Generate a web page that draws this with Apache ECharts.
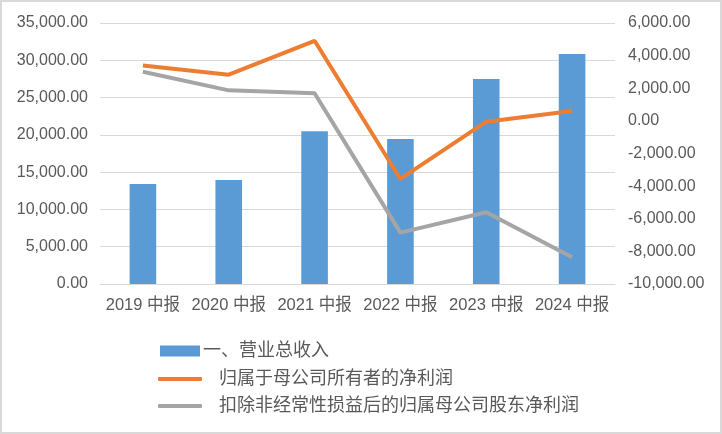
<!DOCTYPE html>
<html><head><meta charset="utf-8">
<script src="https://cdn.jsdelivr.net/npm/echarts@6/dist/echarts.min.js"></script>
<style>html,body{margin:0;padding:0;background:#fff}#c{width:722px;height:434px}</style>
</head><body><div id="c"></div>
<script>
const categories = ['2019 中报','2020 中报','2021 中报','2022 中报','2023 中报','2024 中报'];
const revenue = [13400, 13950, 20500, 19450, 27500, 30850];
const netProfit = [3400, 2830, 4910, -3560, -50, 600];
const netProfitDeducted = [3010, 1870, 1690, -6850, -5600, -8360];
const seriesNames = ['一、营业总收入','归属于母公司所有者的净利润','扣除非经常性损益后的归属母公司股东净利润'];

function fmt(v){
  const neg = v < 0; v = Math.abs(v);
  const s = v.toFixed(2).split('.');
  s[0] = s[0].replace(/\B(?=(\d{3})+(?!\d))/g, ',');
  return (neg ? '-' : '') + s.join('.');
}
const font = 'Liberation Sans, "Noto Sans CJK SC", sans-serif';
const chart = echarts.init(document.getElementById('c'));
chart.setOption({
  animation: false,
  textStyle: {fontFamily: font},
  graphic: [{type:'rect', shape:{x:1,y:1,width:720,height:432}, style:{fill:'none', stroke:'#d9d9d9', lineWidth:2}}],
  grid: {left: 100, right: 107, top: 23, bottom: 150},
  legend: [
    {data:[{name:seriesNames[0], icon:'rect'}], left:155, top:337, itemWidth:40, itemHeight:11, itemGap:0,
     textStyle:{fontSize:18, color:'#595959', padding:[0,0,0,-2], fontFamily:font}},
    {data:[{name:seriesNames[1], icon:'roundRect'}], left:153, top:365, itemWidth:44, itemHeight:4,
     textStyle:{fontSize:18, color:'#595959', padding:[0,0,0,12], fontFamily:font}},
    {data:[{name:seriesNames[2], icon:'roundRect'}], left:153, top:392, itemWidth:44, itemHeight:4,
     textStyle:{fontSize:18, color:'#595959', padding:[0,0,0,12], fontFamily:font}}
  ],
  xAxis: {type:'category', data:categories,
    axisLine:{show:true, lineStyle:{color:'#d9d9d9'}}, axisTick:{show:false},
    axisLabel:{color:'#595959', fontSize:16.5, margin:13, interval:0, fontFamily:font}},
  yAxis: [
    {type:'value', min:0, max:35000, interval:5000,
     axisLine:{show:false}, axisTick:{show:false},
     splitLine:{lineStyle:{color:'#d9d9d9', width:1}},
     axisLabel:{color:'#595959', fontSize:16, margin:12, formatter:fmt, fontFamily:font}},
    {type:'value', min:-10000, max:6000, interval:2000,
     axisLine:{show:false}, axisTick:{show:false}, splitLine:{show:false},
     axisLabel:{color:'#595959', fontSize:16, margin:13, formatter:fmt, fontFamily:font}}
  ],
  series: [
    {name:seriesNames[0], type:'bar', data:revenue, barWidth:'31%', itemStyle:{color:'#5B9BD5'}, yAxisIndex:0},
    {name:seriesNames[1], type:'line', data:netProfit, yAxisIndex:1, symbol:'none',
     lineStyle:{color:'#ED7D31', width:4}, itemStyle:{color:'#ED7D31'}},
    {name:seriesNames[2], type:'line', data:netProfitDeducted, yAxisIndex:1, symbol:'none',
     lineStyle:{color:'#A5A5A5', width:4}, itemStyle:{color:'#A5A5A5'}}
  ]
});
</script></body></html>
